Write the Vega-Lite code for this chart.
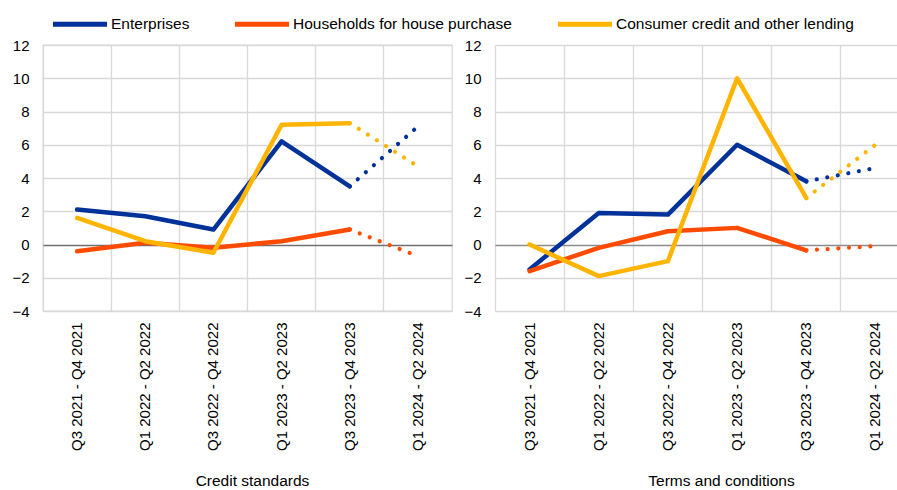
{
  "$schema": "https://vega.github.io/schema/vega-lite/v6.json",
  "background": "white",
  "padding": {"left": 11, "top": 12, "right": 0, "bottom": 0},
  "config": {
    "font": "Liberation Sans",
    "view": {"stroke": null},
    "concat": {"spacing": 10},
    "axis": {
      "labelFont": "Liberation Sans",
      "labelFontSize": 15,
      "labelColor": "#000000",
      "titleFont": "Liberation Sans",
      "titleFontSize": 15.5,
      "titleFontWeight": "normal",
      "titleColor": "#000000",
      "ticks": false,
      "domain": false,
      "gridColor": "#d9d9d9",
      "gridWidth": 1.3
    },
    "legend": {
      "orient": "none",
      "legendX": 25.5,
      "legendY": -32.5,
      "direction": "horizontal",
      "symbolType": "M-3,0H3",
      "symbolSize": 324,
      "symbolStrokeWidth": 5,
      "labelFont": "Liberation Sans",
      "labelFontSize": 15.5,
      "labelColor": "#000000",
      "labelLimit": 0,
      "labelOffset": 19.5,
      "columnPadding": 35,
      "padding": 0
    }
  },
  "data": {
    "values": [
      {"panel": "Credit standards", "series": "Enterprises", "period": "Q3 2021 - Q4 2021", "status": "actual", "value": 2.1},
      {"panel": "Credit standards", "series": "Enterprises", "period": "Q1 2022 - Q2 2022", "status": "actual", "value": 1.7},
      {"panel": "Credit standards", "series": "Enterprises", "period": "Q3 2022 - Q4 2022", "status": "actual", "value": 0.9},
      {"panel": "Credit standards", "series": "Enterprises", "period": "Q1 2023 - Q2 2023", "status": "actual", "value": 6.2},
      {"panel": "Credit standards", "series": "Enterprises", "period": "Q3 2023 - Q4 2023", "status": "actual", "value": 3.5},
      {"panel": "Credit standards", "series": "Enterprises", "period": "Q1 2024 - Q2 2024", "status": "expected", "value": 7.1},
      {"panel": "Credit standards", "series": "Households for house purchase", "period": "Q3 2021 - Q4 2021", "status": "actual", "value": -0.4},
      {"panel": "Credit standards", "series": "Households for house purchase", "period": "Q1 2022 - Q2 2022", "status": "actual", "value": 0.1},
      {"panel": "Credit standards", "series": "Households for house purchase", "period": "Q3 2022 - Q4 2022", "status": "actual", "value": -0.2},
      {"panel": "Credit standards", "series": "Households for house purchase", "period": "Q1 2023 - Q2 2023", "status": "actual", "value": 0.2},
      {"panel": "Credit standards", "series": "Households for house purchase", "period": "Q3 2023 - Q4 2023", "status": "actual", "value": 0.9},
      {"panel": "Credit standards", "series": "Households for house purchase", "period": "Q1 2024 - Q2 2024", "status": "expected", "value": -0.7},
      {"panel": "Credit standards", "series": "Consumer credit and other lending", "period": "Q3 2021 - Q4 2021", "status": "actual", "value": 1.6},
      {"panel": "Credit standards", "series": "Consumer credit and other lending", "period": "Q1 2022 - Q2 2022", "status": "actual", "value": 0.2},
      {"panel": "Credit standards", "series": "Consumer credit and other lending", "period": "Q3 2022 - Q4 2022", "status": "actual", "value": -0.5},
      {"panel": "Credit standards", "series": "Consumer credit and other lending", "period": "Q1 2023 - Q2 2023", "status": "actual", "value": 7.2},
      {"panel": "Credit standards", "series": "Consumer credit and other lending", "period": "Q3 2023 - Q4 2023", "status": "actual", "value": 7.3},
      {"panel": "Credit standards", "series": "Consumer credit and other lending", "period": "Q1 2024 - Q2 2024", "status": "expected", "value": 4.7},
      {"panel": "Terms and conditions", "series": "Enterprises", "period": "Q3 2021 - Q4 2021", "status": "actual", "value": -1.5},
      {"panel": "Terms and conditions", "series": "Enterprises", "period": "Q1 2022 - Q2 2022", "status": "actual", "value": 1.9},
      {"panel": "Terms and conditions", "series": "Enterprises", "period": "Q3 2022 - Q4 2022", "status": "actual", "value": 1.8},
      {"panel": "Terms and conditions", "series": "Enterprises", "period": "Q1 2023 - Q2 2023", "status": "actual", "value": 6.0},
      {"panel": "Terms and conditions", "series": "Enterprises", "period": "Q3 2023 - Q4 2023", "status": "actual", "value": 3.8},
      {"panel": "Terms and conditions", "series": "Enterprises", "period": "Q1 2024 - Q2 2024", "status": "expected", "value": 4.6},
      {"panel": "Terms and conditions", "series": "Households for house purchase", "period": "Q3 2021 - Q4 2021", "status": "actual", "value": -1.6},
      {"panel": "Terms and conditions", "series": "Households for house purchase", "period": "Q1 2022 - Q2 2022", "status": "actual", "value": -0.2},
      {"panel": "Terms and conditions", "series": "Households for house purchase", "period": "Q3 2022 - Q4 2022", "status": "actual", "value": 0.8},
      {"panel": "Terms and conditions", "series": "Households for house purchase", "period": "Q1 2023 - Q2 2023", "status": "actual", "value": 1.0},
      {"panel": "Terms and conditions", "series": "Households for house purchase", "period": "Q3 2023 - Q4 2023", "status": "actual", "value": -0.35},
      {"panel": "Terms and conditions", "series": "Households for house purchase", "period": "Q1 2024 - Q2 2024", "status": "expected", "value": -0.1},
      {"panel": "Terms and conditions", "series": "Consumer credit and other lending", "period": "Q3 2021 - Q4 2021", "status": "actual", "value": 0.0},
      {"panel": "Terms and conditions", "series": "Consumer credit and other lending", "period": "Q1 2022 - Q2 2022", "status": "actual", "value": -1.9},
      {"panel": "Terms and conditions", "series": "Consumer credit and other lending", "period": "Q3 2022 - Q4 2022", "status": "actual", "value": -1.0},
      {"panel": "Terms and conditions", "series": "Consumer credit and other lending", "period": "Q1 2023 - Q2 2023", "status": "actual", "value": 10.0},
      {"panel": "Terms and conditions", "series": "Consumer credit and other lending", "period": "Q3 2023 - Q4 2023", "status": "actual", "value": 2.8},
      {"panel": "Terms and conditions", "series": "Consumer credit and other lending", "period": "Q1 2024 - Q2 2024", "status": "expected", "value": 6.0}
    ]
  },
  "resolve": {"scale": {"color": "shared"}, "legend": {"color": "shared"}},
  "hconcat": [
    {
      "width": 409,
      "height": 266,
      "view": {"stroke": "#d9d9d9", "strokeWidth": 1.3},
      "transform": [{"filter": "datum.panel === 'Credit standards'"}],
      "encoding": {
        "x": {
          "field": "period",
          "type": "nominal",
          "bandPosition": 0.5,
          "sort": ["Q3 2021 - Q4 2021", "Q1 2022 - Q2 2022", "Q3 2022 - Q4 2022", "Q1 2023 - Q2 2023", "Q3 2023 - Q4 2023", "Q1 2024 - Q2 2024"],
          "scale": {"type": "band", "paddingInner": 0, "paddingOuter": 0},
          "axis": {
            "title": "Credit standards",
            "labelAngle": -90,
            "labelPadding": 11,
            "bandPosition": 0,
            "grid": true,
            "titleX": 209,
            "titleY": 174.5,
            "titleBaseline": "alphabetic"
          }
        },
        "y": {
          "field": "value",
          "type": "quantitative",
          "scale": {"domain": [-4, 12], "nice": false, "zero": false},
          "axis": {
            "title": null,
            "values": [-4, -2, 0, 2, 4, 6, 8, 10, 12],
            "labelPadding": 14,
            "gridColor": {"condition": {"test": "datum.value === 0", "value": "#6f6f6f"}, "value": "#d9d9d9"}
          }
        },
        "color": {
          "field": "series",
          "type": "nominal",
          "scale": {
            "domain": ["Enterprises", "Households for house purchase", "Consumer credit and other lending"],
            "range": ["#003299", "#ff4b00", "#ffb400"]
          },
          "legend": {"title": null}
        }
      },
      "layer": [
        {
          "transform": [{"filter": "datum.status === 'actual'"}],
          "mark": {"type": "line", "strokeWidth": 4.5, "strokeCap": "round", "strokeJoin": "round"}
        },
        {
          "transform": [{"filter": "datum.status === 'expected' || datum.period === 'Q3 2023 - Q4 2023'"}],
          "mark": {"type": "line", "strokeWidth": 4.2, "strokeCap": "round", "strokeDash": [0.01, 10.7]}
        }
      ]
    },
    {
      "width": 405,
      "height": 266,
      "transform": [{"filter": "datum.panel === 'Terms and conditions'"}],
      "encoding": {
        "x": {
          "field": "period",
          "type": "nominal",
          "bandPosition": 0.5,
          "sort": ["Q3 2021 - Q4 2021", "Q1 2022 - Q2 2022", "Q3 2022 - Q4 2022", "Q1 2023 - Q2 2023", "Q3 2023 - Q4 2023", "Q1 2024 - Q2 2024"],
          "scale": {"type": "band", "paddingInner": 0, "paddingOuter": 0, "range": [0, 415]},
          "axis": {
            "title": "Terms and conditions",
            "labelAngle": -90,
            "labelPadding": 11,
            "bandPosition": 0,
            "grid": true,
            "titleX": 226,
            "titleY": 174.5,
            "titleBaseline": "alphabetic"
          }
        },
        "y": {
          "field": "value",
          "type": "quantitative",
          "scale": {"domain": [-4, 12], "nice": false, "zero": false},
          "axis": {
            "title": null,
            "values": [-4, -2, 0, 2, 4, 6, 8, 10, 12],
            "labelPadding": 14,
            "gridColor": {"condition": {"test": "datum.value === 0", "value": "#8c8c8c"}, "value": "#d9d9d9"}
          }
        },
        "color": {
          "field": "series",
          "type": "nominal",
          "scale": {
            "domain": ["Enterprises", "Households for house purchase", "Consumer credit and other lending"],
            "range": ["#003299", "#ff4b00", "#ffb400"]
          },
          "legend": {"title": null}
        }
      },
      "layer": [
        {
          "transform": [{"filter": "datum.status === 'actual'"}],
          "mark": {"type": "line", "strokeWidth": 4.5, "strokeCap": "round", "strokeJoin": "round"}
        },
        {
          "transform": [{"filter": "datum.status === 'expected' || datum.period === 'Q3 2023 - Q4 2023'"}],
          "mark": {"type": "line", "strokeWidth": 4.2, "strokeCap": "round", "strokeDash": [0.01, 10.7]}
        }
      ]
    }
  ]
}
